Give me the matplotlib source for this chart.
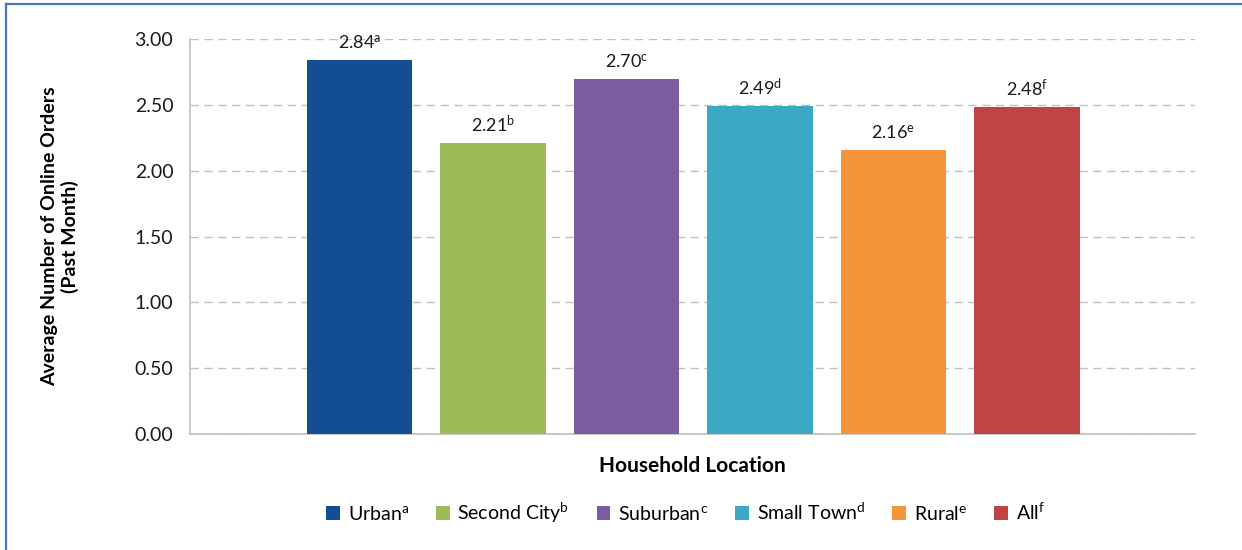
import matplotlib
matplotlib.use("Agg")
from matplotlib import pyplot as plt
from matplotlib.patches import Patch
from matplotlib.lines import Line2D

plt.rcParams['font.family'] = ['Lato', 'DejaVu Sans']
plt.rcParams['mathtext.fontset'] = 'custom'
plt.rcParams['mathtext.rm'] = 'Lato'
plt.rcParams['mathtext.it'] = 'Lato'

categories = ["Urban", "Second City", "Suburban", "Small Town", "Rural", "All"]
marks = ["a", "b", "c", "d", "e", "f"]
values = [2.84, 2.21, 2.70, 2.49, 2.16, 2.48]
colors = ["#124E91", "#9BBB59", "#7B5C9E", "#3BA8C4", "#F4943A", "#C04444"]
yticks = [0.0, 0.5, 1.0, 1.5, 2.0, 2.5, 3.0]

fig = plt.figure(figsize=(12.42, 5.5), dpi=100)
ax = fig.add_axes([190 / 1242, 1 - 434 / 550, 1005 / 1242, 395 / 550])

x = list(range(len(values)))
ax.bar(x, values, width=0.79, color=colors, zorder=3)

for xi, v, m in zip(x, values, marks):
    ax.text(xi, v + 0.06, "%.2f$^{\\mathrm{%s}}$" % (v, m), ha="center", va="bottom",
            fontsize=13, color="#1A1A1A")

ax.set_xlim(-1.27, 6.26)
ax.set_ylim(0, 3.0)
ax.set_yticks(yticks)
ax.set_yticklabels(["%.2f" % t for t in yticks], fontsize=14, color="#1A1A1A")
ax.set_xticks([])
ax.tick_params(axis="y", length=0, pad=12)
ax.grid(axis="y", color="#BFBFBF", linestyle=(0, (6, 4)), linewidth=1, zorder=0)

for s in ["top", "right"]:
    ax.spines[s].set_visible(False)
ax.spines["left"].set_color("#BFBFBF")
ax.spines["bottom"].set_color("#BFBFBF")
ax.spines["left"].set_linewidth(1.2)
ax.spines["bottom"].set_linewidth(1.2)

ax.set_ylabel("Average Number of Online Orders\n(Past Month)", fontsize=14,
              fontweight="bold", labelpad=40, linespacing=1.2)
ax.set_xlabel("Household Location", fontsize=15, fontweight="bold", labelpad=16)

handles = [Patch(facecolor=c) for c in colors]
labels = ["%s$^{\\mathrm{%s}}$" % (c, m) for c, m in zip(categories, marks)]
fig.legend(handles, labels, loc="center", bbox_to_anchor=(0.552, 1 - 513 / 550), ncol=6,
           frameon=False, fontsize=14, handlelength=0.7, handleheight=0.7,
           handletextpad=0.4, columnspacing=1.4)

# blue frame on top and left
fig.add_artist(Line2D([6 / 1242, 1.0], [1 - 4 / 550, 1 - 4 / 550], color="#4A78C0",
                      linewidth=1.6, transform=fig.transFigure))
fig.add_artist(Line2D([6 / 1242, 6 / 1242], [0.0, 1 - 4 / 550], color="#4A78C0",
                      linewidth=1.6, transform=fig.transFigure))

fig.savefig("out.png", dpi=100)
